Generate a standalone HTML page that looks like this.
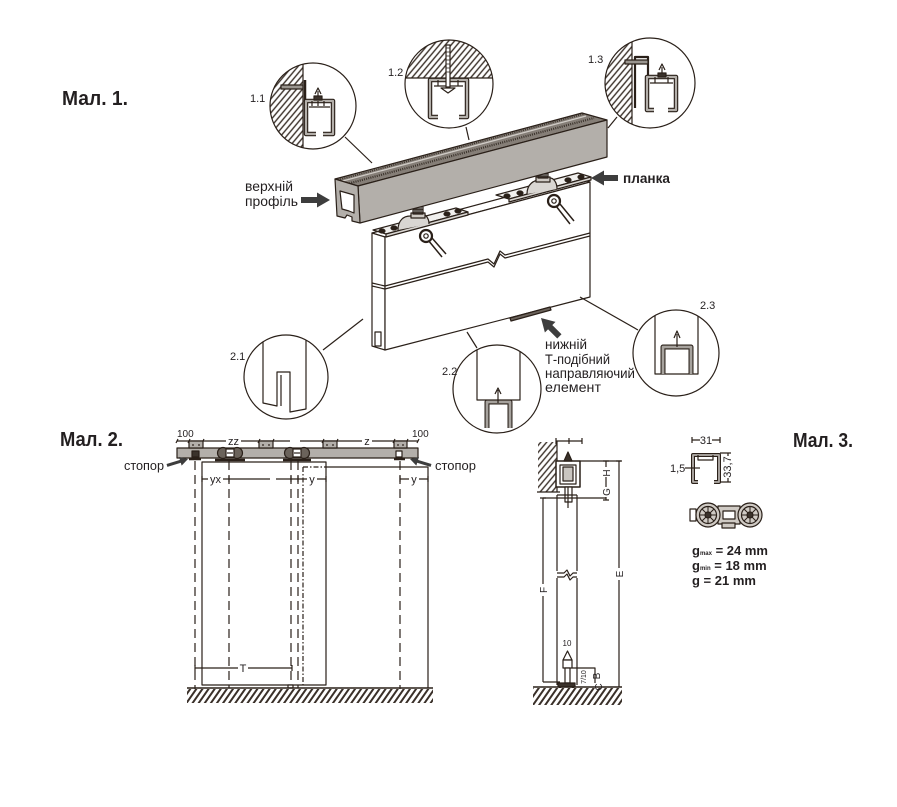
<!DOCTYPE html>
<html><head><meta charset="utf-8">
<style>
html,body{margin:0;padding:0;background:#fff;width:897px;height:807px;overflow:hidden}
svg{display:block}
text{font-family:"Liberation Sans","DejaVu Sans",sans-serif;fill:#231f20;stroke:none}
.b{font-weight:bold}
</style></head><body>
<svg width="897" height="807" viewBox="0 0 897 807" xmlns="http://www.w3.org/2000/svg">
<defs>
 <pattern id="h" width="4.5" height="4.5" patternUnits="userSpaceOnUse" patternTransform="rotate(40)">
  <rect width="4.5" height="4.5" fill="#fff"/>
  <line x1="1" y1="0" x2="1" y2="4.5" stroke="#3a3029" stroke-width="1.4"/>
 </pattern>
 <pattern id="hf" width="5" height="5" patternUnits="userSpaceOnUse" patternTransform="rotate(35)">
  <rect width="5" height="5" fill="#fff"/>
  <line x1="1" y1="0" x2="1" y2="5" stroke="#3a3029" stroke-width="2"/>
 </pattern>
 <clipPath id="c11"><circle cx="313" cy="106" r="43"/></clipPath>
 <clipPath id="c12"><circle cx="449" cy="84" r="44"/></clipPath>
 <clipPath id="c13"><circle cx="650" cy="83" r="45"/></clipPath>
 <clipPath id="c21"><circle cx="286" cy="377" r="42"/></clipPath>
 <clipPath id="c22"><circle cx="497" cy="389" r="44"/></clipPath>
 <clipPath id="c23"><circle cx="676" cy="353" r="43"/></clipPath>
 <g id="wheel">
  <circle cx="0" cy="0" r="12" fill="#cfcac4" stroke="#2a2019" stroke-width="1.2"/>
  <circle cx="0" cy="0" r="8.5" fill="none" stroke="#2a2019" stroke-width="1.2"/>
  <circle cx="0" cy="0" r="3" fill="#3a322b"/>
  <path d="M3,0 H8.5 M2.1,2.1 L6,6 M0,3 V8.5 M-2.1,2.1 L-6,6 M-3,0 H-8.5 M-2.1,-2.1 L-6,-6 M0,-3 V-8.5 M2.1,-2.1 L6,-6" stroke="#2a2019" stroke-width="1"/>
 </g>
</defs>

<g stroke="#2a2019" stroke-width="1.2" fill="none" stroke-linejoin="round">

<!-- ============ FIG 1 detail circles ============ -->
<!-- 1.1 -->
<g clip-path="url(#c11)">
 <rect x="260" y="55" width="43" height="100" fill="url(#h)" stroke="none"/>
 <line x1="303" y1="55" x2="303" y2="155"/>
 <rect x="281" y="85" width="22" height="4" fill="#9a958f"/>
 <path d="M305,80 V102" stroke-width="2.5"/>
 <path d="M316,134 H306 V101 H333 V134 H323" stroke-width="4.5"/>
 <path d="M316,134 H306 V101 H333 V134 H323" stroke="#b3afaa" stroke-width="2.2"/>
 <path d="M309,107 H330 M312,101 v5 M318,101 v5 M324,101 v5"/>
 <path d="M318,100 V91 M315,94 L318,88 L321,94"/>
 <rect x="314" y="96" width="8" height="4" fill="#3a322b"/>
</g>
<circle cx="313" cy="106" r="43"/>

<!-- 1.2 -->
<g clip-path="url(#c12)">
 <rect x="400" y="35" width="100" height="43" fill="url(#h)" stroke="none"/>
 <line x1="400" y1="78" x2="500" y2="78"/>
 <path d="M438,117 H430 V80 H467 V117 H459" stroke-width="4.5"/>
 <path d="M438,117 H430 V80 H467 V117 H459" stroke="#b3afaa" stroke-width="2.2"/>
 <path d="M434,86 H463 M438,80 v6 M458,80 v6"/>
 <rect x="446" y="45" width="4" height="42" fill="#fff"/>
 <path d="M446,48 h4 M446,52 h4 M446,56 h4 M446,60 h4 M446,64 h4 M446,68 h4 M446,72 h4" stroke-width="0.8"/>
 <polygon points="441,88 455,88 448,93" fill="#fff"/>
</g>
<circle cx="449" cy="84" r="44"/>

<!-- 1.3 -->
<g clip-path="url(#c13)">
 <rect x="600" y="35" width="32" height="100" fill="url(#h)" stroke="none"/>
 <line x1="632" y1="35" x2="632" y2="135"/>
 <path d="M635,108 V57 H648 V77" stroke-width="2.2"/>
 <rect x="625" y="60" width="23" height="4" fill="#9a958f"/>
 <path d="M654,110 H647 V77 H676 V110 H668" stroke-width="4.5"/>
 <path d="M654,110 H647 V77 H676 V110 H668" stroke="#b3afaa" stroke-width="2.2"/>
 <path d="M650,83 H673 M655,77 v6 M668,77 v6"/>
 <path d="M662,76 V67 M659,70 L662,64 L665,70"/>
 <rect x="658" y="73" width="8" height="4" fill="#3a322b"/>
</g>
<circle cx="650" cy="83" r="45"/>

<!-- leaders fig1 -->
<line x1="345" y1="137" x2="372" y2="163"/>
<line x1="466" y1="127" x2="469" y2="140"/>
<line x1="617" y1="117" x2="608" y2="128"/>

<!-- ============ DOOR ============ -->
<polygon points="372,233 577,178 590,182 385,237" fill="#fff"/>
<polygon points="372,233 385,237 385,350 372,346" fill="#fff"/>
<polygon points="385,237 590,182 590,297 385,350" fill="#fff"/>
<path d="M372,283 L385,286 L488,259 L494,264 L500,251 L505,255 L590,233"/>
<path d="M372,286 L385,289 L488,262 L494,267 L500,254 L505,258 L590,236"/>
<rect x="375" y="332" width="6" height="14"/>
<polygon points="510,318 550,307 551,310 511,321" fill="#6b635b"/>

<!-- left plate -->
<polygon points="373,230 456,208 468,212 386,234" fill="#f0efed"/>
<polygon points="386,234 468,212 468,215 386,237" fill="#d9d6d2"/>
<ellipse cx="382" cy="231" rx="3" ry="2" fill="#2a2019"/>
<ellipse cx="394" cy="228" rx="3" ry="2" fill="#2a2019"/>
<ellipse cx="447" cy="214" rx="3" ry="2" fill="#2a2019"/>
<ellipse cx="458" cy="211" rx="3" ry="2" fill="#2a2019"/>
<path d="M398,230 C398,220 404,216 410,216 L420,214 C426,213 429,219 429,224" fill="#d9d6d2"/>
<rect x="411" y="213" width="14" height="5" fill="#cfcac4"/>
<rect x="413" y="202" width="10" height="12" fill="#3a322b"/>
<path d="M413,205 h10 M413,208 h10 M413,211 h10" stroke="#aaa" stroke-width="0.8"/>
<path d="M428,240 L442,257 M432,238 L446,254" stroke-width="1.5"/>
<circle cx="426" cy="236" r="6" fill="#fff" stroke-width="2.2"/>
<circle cx="426" cy="236" r="2.2" fill="#fff"/>

<!-- right plate -->
<polygon points="496,195 578,173 591,177 509,199" fill="#f0efed"/>
<polygon points="509,199 591,177 591,180 509,202" fill="#d9d6d2"/>
<ellipse cx="507" cy="196" rx="3" ry="2" fill="#2a2019"/>
<ellipse cx="520" cy="193" rx="3" ry="2" fill="#2a2019"/>
<ellipse cx="568" cy="180" rx="3" ry="2" fill="#2a2019"/>
<ellipse cx="581" cy="177" rx="3" ry="2" fill="#2a2019"/>
<path d="M527,194 C527,184 534,180 540,180 L548,178 C554,177 557,183 557,189" fill="#d9d6d2"/>
<rect x="536" y="177" width="14" height="5" fill="#cfcac4"/>
<rect x="538" y="166" width="10" height="12" fill="#3a322b"/>
<path d="M538,169 h10 M538,172 h10 M538,175 h10" stroke="#aaa" stroke-width="0.8"/>
<path d="M556,206 L570,224 M560,204 L574,221" stroke-width="1.5"/>
<circle cx="554" cy="201" r="6" fill="#fff" stroke-width="2.2"/>
<circle cx="554" cy="201" r="2.2" fill="#fff"/>

<!-- ============ TOP PROFILE ============ -->
<polygon points="335,179 582,113 607,120 358,186" fill="#857e77"/>
<line x1="339" y1="182" x2="586" y2="116" stroke="#d0ccc7" stroke-width="1.3"/>
<line x1="347" y1="184" x2="594" y2="118" stroke="#3a322b" stroke-width="2.2" stroke-dasharray="1 1.2"/>
<line x1="338" y1="180" x2="584" y2="114" stroke="#3a322b" stroke-width="1.6" stroke-dasharray="1 1.2"/>
<polygon points="358,186 607,120 607,157 360,223" fill="#b3afaa"/>
<polygon points="335,179 358,186 360,223 352,221 352,217 347,215 345,218 337,216" fill="#b3afaa"/>
<polygon points="340,191 354,195 354,213 349,211 342,209" fill="#fff"/>

<!-- arrows fig1 -->
<g fill="#3d3d3d" stroke="none">
 <g transform="translate(330,200) rotate(180)"><polygon points="0,0 13,-7.5 13,7.5"/><rect x="12" y="-3" width="17" height="6"/></g>
 <g transform="translate(591,178)"><polygon points="0,0 13,-7.5 13,7.5"/><rect x="12" y="-3" width="15" height="6"/></g>
 <g transform="translate(541,318) rotate(45)"><polygon points="0,0 13,-7.5 13,7.5"/><rect x="12" y="-3" width="14" height="6"/></g>
</g>

<!-- ============ FIG 1 lower circles ============ -->
<g clip-path="url(#c21)">
 <path d="M263,330 V403 L277,406 V372 H290 V412 L306,409 V330" fill="#fff"/>
 <line x1="281" y1="375" x2="281" y2="406"/>
</g>
<circle cx="286" cy="377" r="42"/>
<line x1="323" y1="350" x2="363" y2="319"/>

<g clip-path="url(#c22)">
 <path d="M477,340 V400 H520 V340"/>
 <path d="M487,428 V402 H510 V428" stroke-width="5"/>
 <path d="M487,428 V402 H510 V428" stroke="#a6a29d" stroke-width="2.8"/>
 <path d="M498,390 V403 M495,394 L498,388 L501,394"/>
</g>
<circle cx="497" cy="389" r="44"/>
<line x1="477" y1="348" x2="467" y2="332"/>

<g clip-path="url(#c23)">
 <path d="M655,305 V374 H698 V305"/>
 <path d="M663,374 V347 H691 V374" stroke-width="5"/>
 <path d="M663,374 V347 H691 V374" stroke="#a6a29d" stroke-width="2.8"/>
 <path d="M677,334 V347 M674,338 L677,331 L680,338"/>
</g>
<circle cx="676" cy="353" r="43"/>
<line x1="638" y1="330" x2="580" y2="297"/>

<!-- ============ FIG 2 front view ============ -->
<path d="M177,441 H290 M300,441 H418"/>
<path d="M176,443 l2,-4 M188,443 l2,-4 M202,443 l2,-4 M258,443 l2,-4 M272,443 l2,-4 M322,443 l2,-4 M336,443 l2,-4 M393,443 l2,-4 M406,443 l2,-4 M417,443 l2,-4"/>
<rect x="177" y="448" width="241" height="10" fill="#b3afaa"/>
<rect x="189" y="441" width="14" height="7" fill="#b3afaa"/>
<rect x="259" y="441" width="14" height="7" fill="#b3afaa"/>
<rect x="323" y="441" width="14" height="7" fill="#b3afaa"/>
<rect x="394" y="441" width="13" height="7" fill="#b3afaa"/>
<g fill="#2a2019" stroke="none">
 <circle cx="193" cy="445" r="0.9"/><circle cx="199" cy="445" r="0.9"/>
 <circle cx="263" cy="445" r="0.9"/><circle cx="269" cy="445" r="0.9"/>
 <circle cx="327" cy="445" r="0.9"/><circle cx="333" cy="445" r="0.9"/>
 <circle cx="398" cy="445" r="0.9"/><circle cx="403" cy="445" r="0.9"/>
</g>
<!-- rollers -->
<circle cx="223" cy="453" r="5.5" fill="#6b635b"/>
<circle cx="237" cy="453" r="5.5" fill="#6b635b"/>
<rect x="226" y="449" width="8" height="8" fill="#fff"/>
<line x1="227" y1="453" x2="233" y2="453"/>
<path d="M215,460 H245" stroke-width="2.5"/>
<circle cx="290" cy="453" r="5.5" fill="#6b635b"/>
<circle cx="304" cy="453" r="5.5" fill="#6b635b"/>
<rect x="293" y="449" width="8" height="8" fill="#fff"/>
<line x1="294" y1="453" x2="300" y2="453"/>
<path d="M283,460 H311" stroke-width="2.5"/>
<!-- stoppers -->
<rect x="192" y="451" width="7" height="6" fill="#3a322b"/>
<path d="M189,459 h12" stroke-width="2.5"/>
<rect x="396" y="451" width="6" height="6" fill="#fff"/>
<path d="M394,459 h11" stroke-width="2.5"/>

<!-- verticals -->
<g stroke-dasharray="9 5">
 <line x1="195" y1="461" x2="195" y2="700"/>
 <line x1="229" y1="461" x2="229" y2="688"/>
 <line x1="291" y1="461" x2="291" y2="688"/>
 <line x1="298" y1="461" x2="298" y2="688"/>
 <line x1="400" y1="461" x2="400" y2="700"/>
</g>
<path d="M303,467 V688 M303,467 H326" stroke-dasharray="5 2 1.5 2"/>
<rect x="202" y="462" width="124" height="223"/>
<path d="M326,467 H428 V688"/>
<rect x="288" y="685" width="5" height="3" fill="#fff"/>

<!-- dims -->
<path d="M202,479 H270 M276,479 H326 M400,479 H428"/>
<path d="M202,476 v6 M229,476 v6 M291,476 v6 M298,476 v6 M326,476 v6 M400,476 v6 M428,476 v6"/>
<path d="M195,668 H292 M195,665 v6 M292,665 v6"/>

<!-- floor -->
<rect x="187" y="689" width="246" height="14" fill="url(#hf)" stroke="none"/>
<line x1="187" y1="688" x2="433" y2="688" stroke-width="1.5"/>

<!-- stopper arrows -->
<g fill="#3d3d3d" stroke="none">
 <g transform="translate(188,459) rotate(163)"><polygon points="0,0 8,-4.5 8,4.5"/><rect x="7" y="-1.5" width="15" height="3"/></g>
 <g transform="translate(410,459) rotate(17)"><polygon points="0,0 8,-4.5 8,4.5"/><rect x="7" y="-1.5" width="15" height="3"/></g>
</g>

<!-- ============ FIG 2 section ============ -->
<rect x="538" y="442" width="19" height="50" fill="url(#h)" stroke="none"/>
<path d="M557,441 V492 M537,492 H560"/>
<path d="M556,441 H582 M556,438 v6 M569,438 v6 M582,438 v6"/>
<rect x="556" y="461" width="24" height="26" fill="#fff" stroke-width="1.5"/>
<rect x="560" y="465" width="16" height="19"/>
<rect x="563" y="467" width="10" height="14" fill="#c9c5c0"/>
<polygon points="564,461 568,452 572,461" fill="#3a322b"/>
<rect x="565" y="487" width="7" height="15" fill="#fff"/>
<line x1="568" y1="487" x2="568" y2="508"/>
<path d="M557,495 V685 M577,495 V685 M557,495 H577"/>
<rect x="556" y="571" width="22" height="7" fill="#fff" stroke="none"/>
<path d="M557,573 H564 L567,570 L570,576 L573,573 H577 M557,577 H564 L567,574 L570,580 L573,577 H577"/>
<path d="M580,461 H621"/>
<path d="M543,498 H606"/>
<path d="M606,461 V500 M603,461 h6 M603,500 h6"/>
<path d="M619,461 V687 M616,461 h6"/>
<path d="M543,498 V682 M543,682 H560 M540,498 h6"/>
<!-- bottom guide -->
<polygon points="563,660 567.5,651 572,660" fill="#fff"/>
<rect x="563" y="660" width="9" height="8" fill="#fff"/>
<rect x="565" y="668" width="5" height="15" fill="#fff"/>
<rect x="558" y="683" width="17" height="4" fill="#3a322b"/>
<path d="M560,687 v6 M573,687 v6" stroke-width="2"/>
<path d="M572,668 H595 V683"/>
<rect x="533" y="688" width="89" height="17" fill="url(#hf)" stroke="none"/>
<line x1="533" y1="687" x2="622" y2="687" stroke-width="1.5"/>

<!-- ============ FIG 3 ============ -->
<path d="M692,440 H720 M692,437 v6 M720,437 v6"/>
<path d="M698,482 H693 V455 H719 V482 H714" stroke-width="4"/>
<path d="M698,482 H693 V455 H719 V482 H714" stroke="#b3afaa" stroke-width="1.8"/>
<path d="M698,455 V460 H713 V455"/>
<path d="M720,453 H731 M720,482 H731 M728,453 V482"/>
<path d="M685,468 H700"/>
<!-- roller -->
<rect x="690" y="509" width="6" height="12" fill="#fff"/>
<rect x="718" y="506" width="22" height="18" fill="#cfcac4"/>
<rect x="723" y="511" width="12" height="8" fill="#fff"/>
<rect x="722" y="523" width="13" height="5" fill="#cfcac4"/>
<use href="#wheel" x="708" y="515"/>
<use href="#wheel" x="750" y="515"/>
</g>

<!-- ============ TEXT ============ -->
<text x="62" y="105" class="b" font-size="20" textLength="66" lengthAdjust="spacingAndGlyphs">Мал. 1.</text>
<text x="60" y="446" class="b" font-size="20" textLength="63" lengthAdjust="spacingAndGlyphs">Мал. 2.</text>
<text x="793" y="447" class="b" font-size="20" textLength="60" lengthAdjust="spacingAndGlyphs">Мал. 3.</text>

<text x="250" y="102" font-size="11">1.1</text>
<text x="388" y="76" font-size="11">1.2</text>
<text x="588" y="63" font-size="11">1.3</text>
<text x="230" y="360" font-size="11">2.1</text>
<text x="442" y="375" font-size="11">2.2</text>
<text x="700" y="309" font-size="11">2.3</text>

<text x="245" y="191" font-size="14" textLength="48" lengthAdjust="spacingAndGlyphs">верхній</text>
<text x="245" y="206" font-size="14" textLength="53" lengthAdjust="spacingAndGlyphs">профіль</text>
<text x="623" y="183" class="b" font-size="14" textLength="47" lengthAdjust="spacingAndGlyphs">планка</text>
<text x="545" y="349" font-size="14" textLength="42" lengthAdjust="spacingAndGlyphs">нижній</text>
<text x="545" y="364" font-size="14" textLength="65" lengthAdjust="spacingAndGlyphs">Т-подібний</text>
<text x="545" y="378" font-size="14" textLength="90" lengthAdjust="spacingAndGlyphs">направляючий</text>
<text x="545" y="392" font-size="14" textLength="56" lengthAdjust="spacingAndGlyphs">елемент</text>

<text x="124" y="470" font-size="13" textLength="40" lengthAdjust="spacingAndGlyphs">стопор</text>
<text x="435" y="470" font-size="13" textLength="41" lengthAdjust="spacingAndGlyphs">стопор</text>

<text x="177" y="437" font-size="10">100</text>
<text x="412" y="437" font-size="10">100</text>
<rect x="226" y="437" width="15" height="8" fill="#fff"/>
<text x="233.5" y="445" font-size="11" text-anchor="middle">zz</text>
<rect x="362" y="437" width="10" height="8" fill="#fff"/>
<text x="367" y="445" font-size="11" text-anchor="middle">z</text>
<rect x="208" y="474" width="15" height="9" fill="#fff"/>
<text x="215.5" y="483" font-size="11" text-anchor="middle">yx</text>
<rect x="307" y="474" width="10" height="9" fill="#fff"/>
<text x="312" y="483" font-size="11" text-anchor="middle">y</text>
<rect x="409" y="474" width="10" height="9" fill="#fff"/>
<text x="414" y="483" font-size="11" text-anchor="middle">y</text>
<rect x="238" y="662" width="10" height="11" fill="#fff"/>
<text x="243" y="672" font-size="11" text-anchor="middle">T</text>

<rect x="601" y="467" width="10" height="10" fill="#fff"/>
<text transform="translate(610,473) rotate(-90)" font-size="10" text-anchor="middle">H</text>
<rect x="601" y="487" width="10" height="10" fill="#fff"/>
<text transform="translate(610,492) rotate(-90)" font-size="10" text-anchor="middle">G</text>
<rect x="614" y="568" width="10" height="12" fill="#fff"/>
<text transform="translate(623,574) rotate(-90)" font-size="10" text-anchor="middle">E</text>
<rect x="538" y="584" width="10" height="12" fill="#fff"/>
<text transform="translate(547,590) rotate(-90)" font-size="10" text-anchor="middle">F</text>
<text x="567" y="646" font-size="8" text-anchor="middle">10</text>
<text transform="translate(586,677) rotate(-90)" font-size="7" text-anchor="middle">7/10</text>
<text transform="translate(600,676) rotate(-90)" font-size="10" text-anchor="middle">B</text>
<text transform="translate(602,687) rotate(-90)" font-size="10" text-anchor="middle">C</text>

<rect x="700" y="435" width="12" height="9" fill="#fff"/>
<text x="706" y="444" font-size="11" text-anchor="middle">31</text>
<text x="670" y="472" font-size="11">1,5</text>
<rect x="722" y="456" width="10" height="22" fill="#fff"/>
<text transform="translate(731,467) rotate(-90)" font-size="11" text-anchor="middle">33,7</text>

<text x="692" y="555" class="b" font-size="13">g<tspan font-size="6">max</tspan> = 24 mm</text>
<text x="692" y="570" class="b" font-size="13">g<tspan font-size="6">min</tspan> = 18 mm</text>
<text x="692" y="585" class="b" font-size="13">g = 21 mm</text>
</svg>
</body></html>
